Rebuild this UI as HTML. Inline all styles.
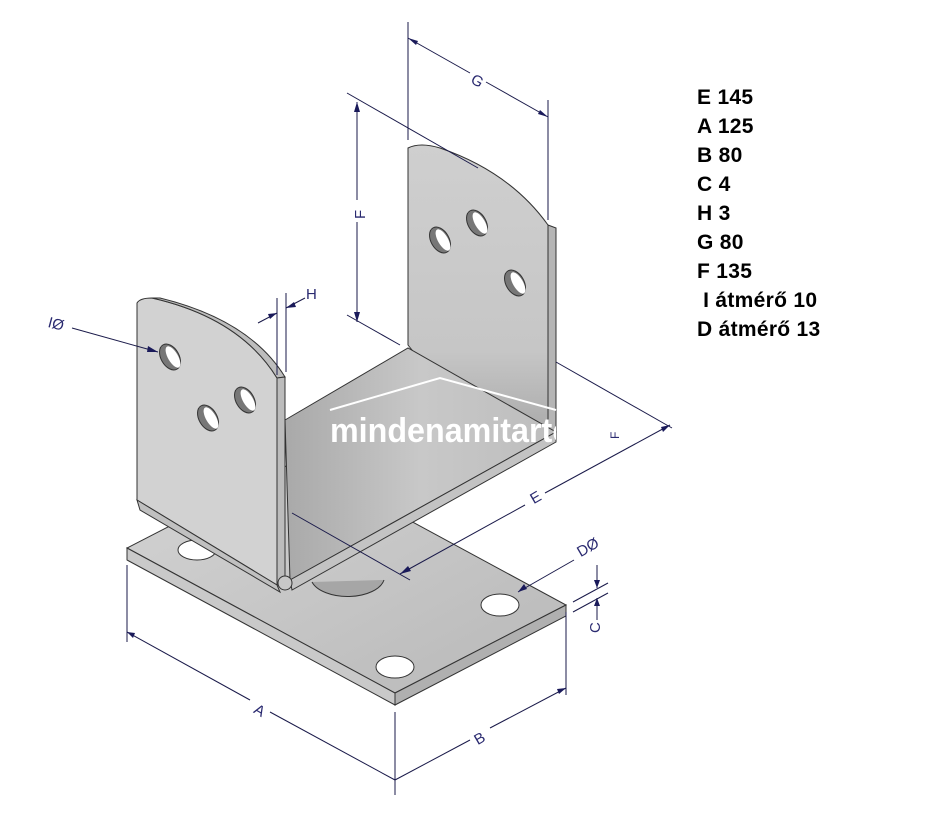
<!DOCTYPE html>
<html><head><meta charset="utf-8"><style>
html,body{margin:0;padding:0;background:#fff;width:933px;height:818px;overflow:hidden}
.t{position:absolute;left:697px;font:bold 21px "Liberation Sans",Arial,sans-serif;color:#000;line-height:29px;letter-spacing:0.3px}
</style></head><body>
<svg width="933" height="818" viewBox="0 0 933 818" style="position:absolute;left:0;top:0">
<defs>
<linearGradient id="g1" x1="0" y1="0" x2="1" y2="1"><stop offset="0" stop-color="#d4d4d4"/><stop offset="1" stop-color="#b8b8b8"/></linearGradient>
<linearGradient id="g2" x1="0" y1="0" x2="0" y2="1"><stop offset="0" stop-color="#cfcfcf"/><stop offset="0.7" stop-color="#c6c6c6"/><stop offset="1" stop-color="#a8a8a8"/></linearGradient>
<linearGradient id="g3" x1="0" y1="0" x2="1" y2="0"><stop offset="0" stop-color="#a9a9a9"/><stop offset="0.5" stop-color="#c8c8c8"/><stop offset="1" stop-color="#bdbdbd"/></linearGradient>
<clipPath id="wm"><rect x="0" y="0" width="556" height="818"/></clipPath>
</defs>
<g stroke="#333" stroke-width="1">
<polygon points="127,548 298,460 566,605 395,693" fill="url(#g1)"/>
<polygon points="127,548 395,693 395,705 127,560" fill="#c9c9c9"/>
<polygon points="395,693 566,605 566,616 395,705" fill="#b0b0b0"/>
<ellipse cx="197" cy="550" rx="19" ry="10" fill="#fff"/>
<ellipse cx="500" cy="605" rx="19" ry="11" fill="#fff"/>
<ellipse cx="395" cy="667" rx="19" ry="11" fill="#fff"/>
<path d="M312,582 A37,20 0 0 0 384,580" fill="#a6a6a6"/>
<path d="M408,148 Q420,142 440,148 Q510,172 548,225 L548,440 L420,360 L408,345 Z" fill="url(#g2)"/>
<polygon points="548,225 556,228 556,440 548,440" fill="#b5b5b5"/>
</g>
<g stroke="#333" stroke-width="1">
<ellipse cx="440" cy="240" rx="9" ry="14" transform="rotate(-30 440 240)" fill="#777"/>
<ellipse cx="477" cy="223" rx="9" ry="14" transform="rotate(-30 477 223)" fill="#777"/>
<ellipse cx="515" cy="283" rx="9" ry="14" transform="rotate(-30 515 283)" fill="#777"/>
</g>
<g fill="#fff">
<ellipse cx="443" cy="240" rx="5" ry="12" transform="rotate(-30 443 240)"/>
<ellipse cx="480" cy="223" rx="5" ry="12" transform="rotate(-30 480 223)"/>
<ellipse cx="518" cy="283" rx="5" ry="12" transform="rotate(-30 518 283)"/>
</g>
<g stroke="#333" stroke-width="1">
<polygon points="285,420 408,348 556,432 290,580" fill="url(#g3)"/>
<polygon points="290,580 556,432 556,442 292,590" fill="#c3c3c3"/>
<path d="M137,303 Q140,298 152,298 Q240,318 277,378 L277,585 L137,500 Z" fill="#d2d2d2"/>
<path d="M152,298 Q240,318 277,378 L285,377 Q250,320 160,298 Z" fill="#bdbdbd"/>
<polygon points="277,378 285,377 285,585 277,585" fill="#bcbcbc"/>
<polygon points="137,500 277,585 280,592 140,510" fill="#c0c0c0"/>
<circle cx="285" cy="583" r="7" fill="#c8c8c8"/>
<ellipse cx="170" cy="357" rx="9" ry="14" transform="rotate(-30 170 357)" fill="#777"/>
<ellipse cx="208" cy="418" rx="9" ry="14" transform="rotate(-30 208 418)" fill="#777"/>
<ellipse cx="245" cy="400" rx="9" ry="14" transform="rotate(-30 245 400)" fill="#777"/>
</g>
<g fill="#fff">
<ellipse cx="173" cy="357" rx="5" ry="12" transform="rotate(-30 173 357)"/>
<ellipse cx="211" cy="418" rx="5" ry="12" transform="rotate(-30 211 418)"/>
<ellipse cx="248" cy="400" rx="5" ry="12" transform="rotate(-30 248 400)"/>
</g>
<g stroke="#fff" stroke-width="2" fill="none"><polyline points="330,410 440,378 556,410"/></g>
<text x="330" y="442" clip-path="url(#wm)" font-family="Liberation Sans,sans-serif" font-weight="bold" font-size="34" fill="#fff" textLength="242" lengthAdjust="spacingAndGlyphs">mindenamitarto</text>
<g stroke="#1a1a4a" stroke-width="1" fill="none">
<line x1="408" y1="22" x2="408" y2="140"/><line x1="548" y1="100" x2="548" y2="220"/>
<line x1="408" y1="38" x2="470" y2="73"/><line x1="486" y1="82" x2="548" y2="117"/>
<line x1="347" y1="93" x2="478" y2="168"/><line x1="347" y1="315" x2="400" y2="345"/>
<line x1="357" y1="102" x2="357" y2="200"/><line x1="357" y1="222" x2="357" y2="322"/>
<line x1="277" y1="298" x2="277" y2="375"/><line x1="286" y1="293" x2="286" y2="372"/>
<line x1="258" y1="323" x2="277" y2="313"/><line x1="286" y1="308" x2="305" y2="298"/>
<line x1="72" y1="328" x2="158" y2="352"/>
<line x1="292" y1="513" x2="410" y2="580"/><line x1="556" y1="362" x2="672" y2="428"/>
<line x1="400" y1="574" x2="525" y2="505"/><line x1="545" y1="493" x2="670" y2="425"/>
<line x1="127" y1="565" x2="127" y2="642"/><line x1="395" y1="712" x2="395" y2="795"/><line x1="566" y1="612" x2="566" y2="695"/>
<line x1="127" y1="632" x2="250" y2="700"/><line x1="270" y1="712" x2="395" y2="780"/>
<line x1="395" y1="780" x2="470" y2="740"/><line x1="490" y1="728" x2="566" y2="688"/>
<line x1="518" y1="592" x2="574" y2="560"/>
<line x1="573" y1="602" x2="608" y2="583"/><line x1="573" y1="612" x2="608" y2="593"/>
<line x1="597" y1="565" x2="597" y2="588"/><line x1="597" y1="598" x2="597" y2="620"/>
</g>
<g fill="#1a1a5a">
<polygon points="408,38 418,41 416,45"/><polygon points="548,117 538,114 540,110"/>
<polygon points="357,102 354,112 360,112"/><polygon points="357,322 354,312 360,312"/>
<polygon points="277,313 268,314 270,319"/><polygon points="286,308 294,302 296,307"/>
<polygon points="158,352 148,346 147,352"/>
<polygon points="400,574 408,566 411,571"/><polygon points="670,425 661,427 663,432"/>
<polygon points="127,632 135,633 133,638"/><polygon points="566,688 557,689 559,694"/>
<polygon points="518,592 524,584 527,589"/>
<polygon points="597,588 594,580 600,580"/><polygon points="597,598 594,606 600,606"/>
</g>
<g font-family="Liberation Sans,sans-serif" font-size="15" fill="#2a2a70">
<text x="472" y="86" transform="rotate(30 478 80)">G</text>
<text x="352" y="216" transform="rotate(-90 360 211)">F</text>
<text x="306" y="299">H</text>
<text x="48" y="330" transform="rotate(15 60 325)">IØ</text>
<text x="530" y="502" transform="rotate(-30 536 496)">E</text>
<text x="255" y="716" transform="rotate(30 261 710)">A</text>
<text x="474" y="743" transform="rotate(-30 480 737)">B</text>
<text x="576" y="552" transform="rotate(-30 588 546)">DØ</text>
<text x="590" y="633" transform="rotate(-90 595 628)">C</text>
<text x="610" y="440" transform="rotate(-90 614 435)" font-size="12">F</text>
</g>
</svg>
<div class="t" style="top:83px">E 145<br>A 125<br>B 80<br>C 4<br>H 3<br>G 80<br>F 135<br>&nbsp;I átmérő 10<br>D átmérő 13</div>
</body></html>
